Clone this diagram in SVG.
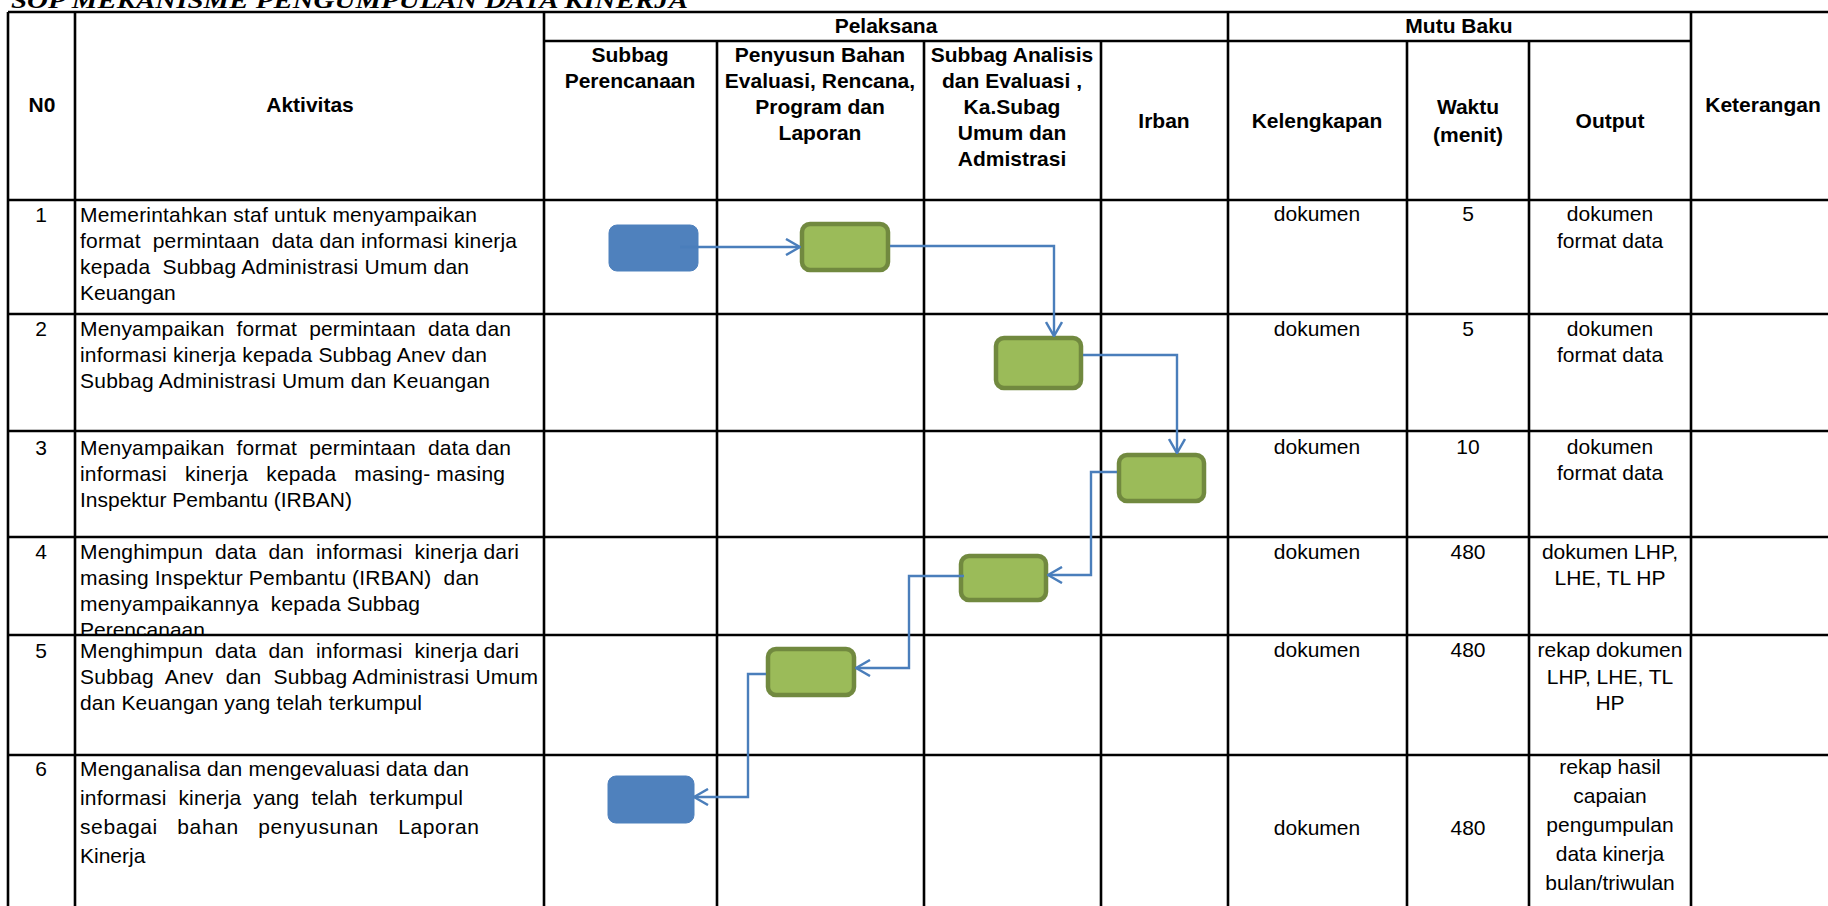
<svg xmlns="http://www.w3.org/2000/svg" width="1828" height="906" viewBox="0 0 1828 906">
<style>
  .grid{stroke:#000;stroke-width:2.6;fill:none}
  .h{font-family:"Liberation Sans",Arial,sans-serif;font-weight:bold;font-size:21px;fill:#000;text-anchor:middle}
  .b{font-family:"Liberation Sans",Arial,sans-serif;font-size:21px;fill:#000}
  .c{font-family:"Liberation Sans",Arial,sans-serif;font-size:21px;fill:#000;text-anchor:middle}
  .title{font-family:"Liberation Serif","DejaVu Serif",serif;font-weight:bold;font-style:italic;font-size:24px;fill:#000}
  .green{fill:#9BBB59;stroke:#71893F;stroke-width:4.5}
  .blue{fill:#4F81BD;stroke:#4F81BD;stroke-width:1}
  .conn{fill:none;stroke:#4A7EBB;stroke-width:2.4}
</style>
<defs>
  <marker id="arr" viewBox="0 0 16 18" refX="15" refY="9" markerWidth="16" markerHeight="18" markerUnits="userSpaceOnUse" orient="auto">
    <path d="M1,1 L15,9 L1,17" fill="none" stroke="#4A7EBB" stroke-width="2.5"/>
  </marker>
  <clipPath id="row4clip"><rect x="75" y="537" width="469" height="97"/></clipPath>
</defs>
<rect x="0" y="0" width="1828" height="906" fill="#fff"/>

<text class="title" x="11" y="8" textLength="677" lengthAdjust="spacingAndGlyphs">SOP MEKANISME PENGUMPULAN DATA KINERJA</text>

<g id="table">
  <path class="grid" d="M8,12 H1828 M544,41 H1691 M8,200 H1828 M8,314 H1828 M8,431 H1828 M8,537 H1828 M8,635 H1828 M8,755 H1828"/>
  <path class="grid" d="M8,12 V906 M75,12 V906 M544,12 V906 M717,41 V906 M924,41 V906 M1101,41 V906 M1228,12 V906 M1407,41 V906 M1529,41 V906 M1691,12 V906"/>
</g>

<g id="header">
  <text class="h" x="42" y="112">N0</text>
  <text class="h" x="310" y="112">Aktivitas</text>
  <text class="h" x="886" y="33">Pelaksana</text>
  <text class="h" x="1459" y="33">Mutu Baku</text>
  <text class="h" x="1763" y="112">Keterangan</text>
  <text class="h" x="630" y="62">Subbag</text>
  <text class="h" x="630" y="88">Perencanaan</text>
  <text class="h" x="820" y="62">Penyusun Bahan</text>
  <text class="h" x="820" y="88">Evaluasi, Rencana,</text>
  <text class="h" x="820" y="114">Program dan</text>
  <text class="h" x="820" y="140">Laporan</text>
  <text class="h" x="1012" y="62">Subbag Analisis</text>
  <text class="h" x="1012" y="88">dan Evaluasi ,</text>
  <text class="h" x="1012" y="114">Ka.Subag</text>
  <text class="h" x="1012" y="140">Umum dan</text>
  <text class="h" x="1012" y="166">Admistrasi</text>
  <text class="h" x="1164" y="128">Irban</text>
  <text class="h" x="1317" y="128">Kelengkapan</text>
  <text class="h" x="1468" y="114">Waktu</text>
  <text class="h" x="1468" y="142">(menit)</text>
  <text class="h" x="1610" y="128">Output</text>
</g>

<g id="row1">
  <text class="c" x="41" y="222">1</text>
  <text class="b" x="80" y="222" textLength="397" lengthAdjust="spacing">Memerintahkan staf untuk menyampaikan</text>
  <text class="b" x="80" y="248" textLength="437" lengthAdjust="spacing" xml:space="preserve">format  permintaan  data dan informasi kinerja</text>
  <text class="b" x="80" y="274" textLength="389" lengthAdjust="spacing" xml:space="preserve">kepada  Subbag Administrasi Umum dan</text>
  <text class="b" x="80" y="300">Keuangan</text>
  <text class="c" x="1317" y="221">dokumen</text>
  <text class="c" x="1468" y="221">5</text>
  <text class="c" x="1610" y="221">dokumen</text>
  <text class="c" x="1610" y="248">format data</text>
</g>

<g id="row2">
  <text class="c" x="41" y="336">2</text>
  <text class="b" x="80" y="336" textLength="431" lengthAdjust="spacing" xml:space="preserve">Menyampaikan  format  permintaan  data dan</text>
  <text class="b" x="80" y="362" textLength="407" lengthAdjust="spacing">informasi kinerja kepada Subbag Anev dan</text>
  <text class="b" x="80" y="388" textLength="410" lengthAdjust="spacing">Subbag Administrasi Umum dan Keuangan</text>
  <text class="c" x="1317" y="336">dokumen</text>
  <text class="c" x="1468" y="336">5</text>
  <text class="c" x="1610" y="336">dokumen</text>
  <text class="c" x="1610" y="362">format data</text>
</g>

<g id="row3">
  <text class="c" x="41" y="455">3</text>
  <text class="b" x="80" y="455" textLength="431" lengthAdjust="spacing" xml:space="preserve">Menyampaikan  format  permintaan  data dan</text>
  <text class="b" x="80" y="481" textLength="425" lengthAdjust="spacing" xml:space="preserve">informasi   kinerja   kepada   masing- masing</text>
  <text class="b" x="80" y="507">Inspektur Pembantu (IRBAN)</text>
  <text class="c" x="1317" y="454">dokumen</text>
  <text class="c" x="1468" y="454">10</text>
  <text class="c" x="1610" y="454">dokumen</text>
  <text class="c" x="1610" y="480">format data</text>
</g>

<g id="row4">
  <text class="c" x="41" y="559">4</text>
  <g clip-path="url(#row4clip)">
    <text class="b" x="80" y="559" textLength="439" lengthAdjust="spacing" xml:space="preserve">Menghimpun  data  dan  informasi  kinerja dari</text>
    <text class="b" x="80" y="585" textLength="399" lengthAdjust="spacing" xml:space="preserve">masing Inspektur Pembantu (IRBAN)  dan</text>
    <text class="b" x="80" y="611" textLength="340" lengthAdjust="spacing" xml:space="preserve">menyampaikannya  kepada Subbag</text>
    <text class="b" x="80" y="637">Perencanaan</text>
  </g>
  <text class="c" x="1317" y="559">dokumen</text>
  <text class="c" x="1468" y="559">480</text>
  <text class="c" x="1610" y="559">dokumen LHP,</text>
  <text class="c" x="1610" y="585">LHE, TL HP</text>
</g>

<g id="row5">
  <text class="c" x="41" y="658">5</text>
  <text class="b" x="80" y="658" textLength="439" lengthAdjust="spacing" xml:space="preserve">Menghimpun  data  dan  informasi  kinerja dari</text>
  <text class="b" x="80" y="684" textLength="458" lengthAdjust="spacing" xml:space="preserve">Subbag  Anev  dan  Subbag Administrasi Umum</text>
  <text class="b" x="80" y="710" textLength="342" lengthAdjust="spacing">dan Keuangan yang telah terkumpul</text>
  <text class="c" x="1317" y="657">dokumen</text>
  <text class="c" x="1468" y="657">480</text>
  <text class="c" x="1610" y="657">rekap dokumen</text>
  <text class="c" x="1610" y="684">LHP, LHE, TL</text>
  <text class="c" x="1610" y="710">HP</text>
</g>

<g id="row6">
  <text class="c" x="41" y="776">6</text>
  <text class="b" x="80" y="776" textLength="389" lengthAdjust="spacing">Menganalisa dan mengevaluasi data dan</text>
  <text class="b" x="80" y="805" textLength="383" lengthAdjust="spacing" xml:space="preserve">informasi  kinerja  yang  telah  terkumpul</text>
  <text class="b" x="80" y="834" textLength="399" lengthAdjust="spacing" xml:space="preserve">sebagai   bahan   penyusunan   Laporan</text>
  <text class="b" x="80" y="863">Kinerja</text>
  <text class="c" x="1317" y="835">dokumen</text>
  <text class="c" x="1468" y="835">480</text>
  <text class="c" x="1610" y="774">rekap hasil</text>
  <text class="c" x="1610" y="803">capaian</text>
  <text class="c" x="1610" y="832">pengumpulan</text>
  <text class="c" x="1610" y="861">data kinerja</text>
  <text class="c" x="1610" y="890">bulan/triwulan</text>
</g>

<g id="node-start"><rect class="blue" x="609" y="225" width="89" height="46" rx="8"/></g>
<g id="node-step1"><rect class="green" x="802" y="224" width="86" height="46" rx="8"/></g>
<g id="node-step2"><rect class="green" x="996" y="338" width="85" height="50" rx="8"/></g>
<g id="node-step3"><rect class="green" x="1119" y="455" width="85" height="46" rx="8"/></g>
<g id="node-step4"><rect class="green" x="961" y="556" width="85" height="44" rx="8"/></g>
<g id="node-step5"><rect class="green" x="768" y="649" width="86" height="46" rx="8"/></g>
<g id="node-end"><rect class="blue" x="608" y="776" width="86" height="47" rx="8"/></g>

<g id="connectors">
  <path class="conn" d="M680,247 H800" marker-end="url(#arr)"/>
  <path class="conn" d="M890,246 H1054 V336" marker-end="url(#arr)"/>
  <path class="conn" d="M1083,355 H1177 V453" marker-end="url(#arr)"/>
  <path class="conn" d="M1117,472 H1091 V575 H1048" marker-end="url(#arr)"/>
  <path class="conn" d="M964,576 H909 V668 H856" marker-end="url(#arr)"/>
  <path class="conn" d="M766,674 H748 V797 H694" marker-end="url(#arr)"/>
</g>
</svg>
